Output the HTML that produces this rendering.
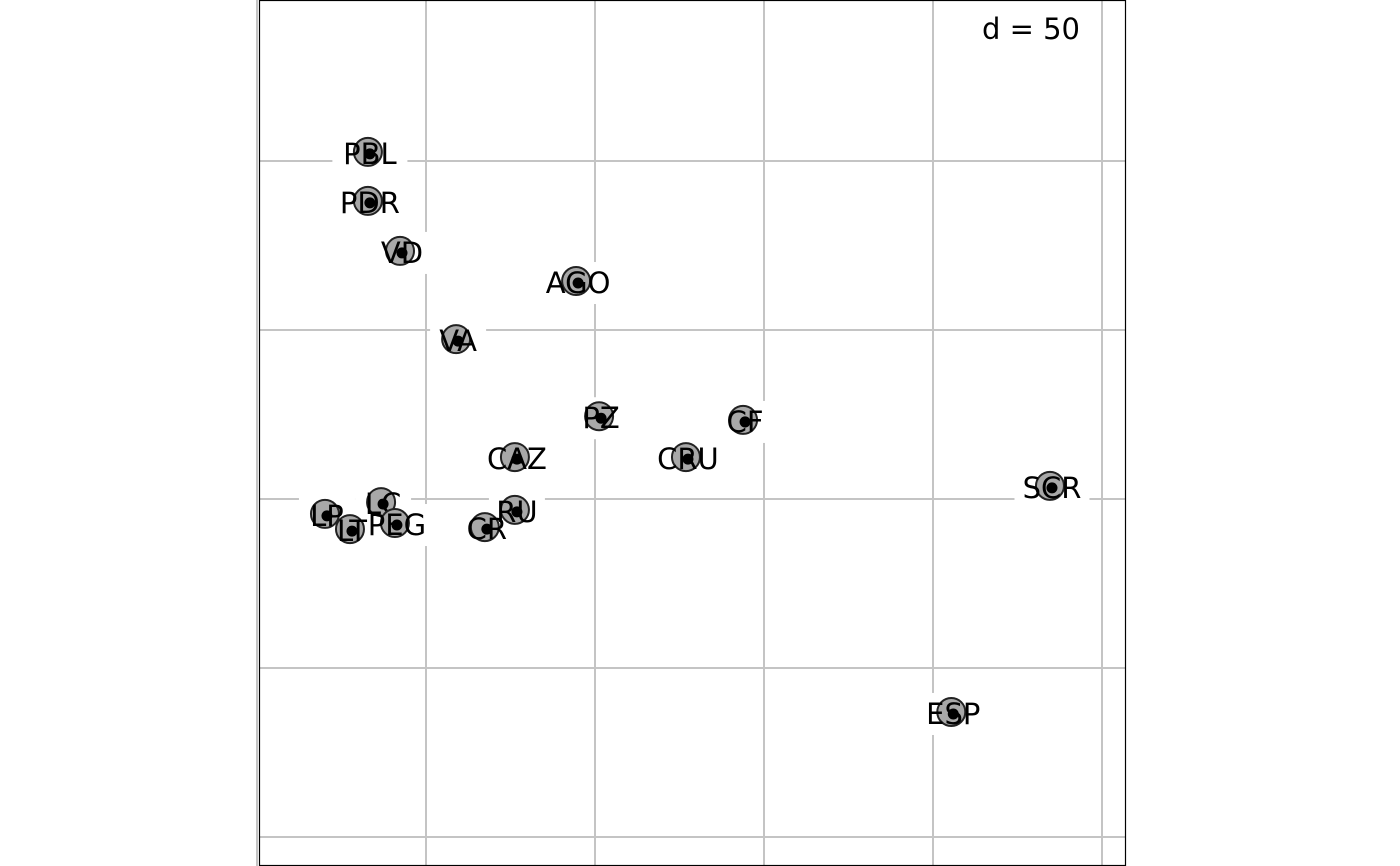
<!DOCTYPE html>
<html><head><meta charset="utf-8"><style>
html,body{margin:0;padding:0;background:#fff;width:1400px;height:866px;overflow:hidden}
svg{display:block}
text{font-family:"DejaVu Sans","Liberation Sans",sans-serif}
</style></head><body>
<svg id="chart" width="1400" height="866" viewBox="0 0 1400 866">
<rect x="259.5" y="0.5" width="866" height="865" fill="#fff" stroke="none"/>
<g id="grid"></g>
<g id="marks"></g>
<rect x="259.5" y="0.5" width="866" height="865" fill="none" stroke="#000" stroke-width="1.2"/>
<text x="1080" y="39" font-size="29" text-anchor="end">d = 50</text>
</svg>
<script>
const labels=["PBL","PDR","VD","AGO","VA","PZ","CF","CAZ","CRU","SCR","LC","LP","LT","PEG","RU","CR","ESP"];
const xs=[-16.6,-16.6,-7.1,45.0,9.5,51.8,94.4,26.9,77.5,185.2,-12.7,-29.3,-21.9,-8.6,26.9,18.0,156.0];
const ys=[102.1,87.6,72.8,63.9,46.7,23.9,22.8,11.8,11.8,3.3,-1.5,-5.0,-9.5,-7.7,-3.8,-8.9,-63.6];
const xTicks=[-50,0,50,100,150,200];
const yTicks=[-100,-50,0,50,100];
const sx=v=>426+v*169/50;
const sy=v=>499-v*169/50;
const NS="http://www.w3.org/2000/svg";
const grid=document.getElementById('grid'),marks=document.getElementById('marks');
function mk(t,a,p){const e=document.createElementNS(NS,t);for(const k in a)e.setAttribute(k,a[k]);p.appendChild(e);return e;}
xTicks.forEach(t=>{const l=mk('line',{x1:sx(t),x2:sx(t),y1:0,y2:866,stroke:'#c4c4c4','stroke-width':2},grid);

});
yTicks.forEach(t=>{const l=mk('line',{x1:259,x2:1125,y1:sy(t),y2:sy(t),stroke:'#c4c4c4','stroke-width':2},grid);

});
labels.forEach((lab,i)=>{const x=sx(xs[i]),y=sy(ys[i]);
const w=lab.length*19+18;
const r=mk('rect',{x:x-w/2,y:y-21,width:w,height:42,fill:'#fff'},marks);

});
labels.forEach((lab,i)=>{const x=sx(xs[i]),y=sy(ys[i]);
const b=mk('circle',{cx:x-2,cy:y-2,r:14,fill:'#a8a8a8',stroke:'#222','stroke-width':2},marks);


const c=mk('circle',{cx:x,cy:y,r:5.5,fill:'#000'},marks);


const t=mk('text',{x:x,y:y+10,'font-size':29,'text-anchor':'middle'},marks);
t.textContent=lab;

});
</script>
</body></html>
